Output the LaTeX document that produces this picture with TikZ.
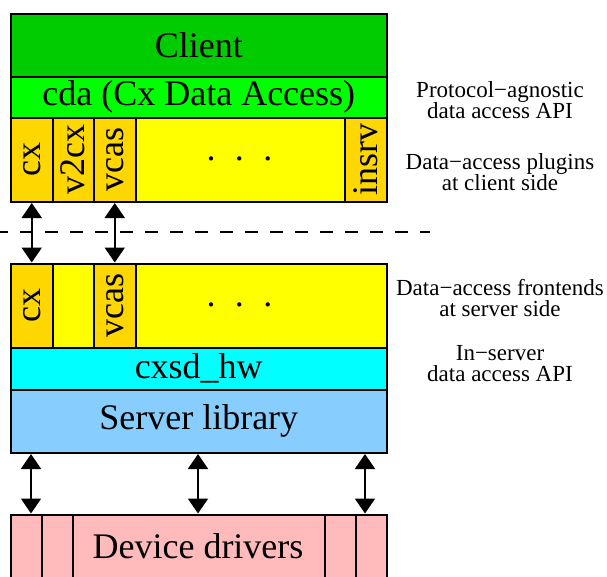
\documentclass[tikz,border=0pt]{standalone}
\usepackage{fontspec}
\setmainfont{Liberation Serif}
\usetikzlibrary{arrows.meta}
\definecolor{clientgreen}{HTML}{00CC00}
\definecolor{cdagreen}{HTML}{00FF00}
\definecolor{plugyellow}{HTML}{FFFF00}
\definecolor{pluggold}{HTML}{FFD700}
\definecolor{hwcyan}{HTML}{00FFFF}
\definecolor{libblue}{HTML}{87CEFF}
\definecolor{drvpink}{HTML}{FFBBBB}
\tikzset{
  box/.style={draw=black, line width=1.5pt, rectangle, inner sep=0pt, anchor=north west,
    font=\fontsize{36}{36}\selectfont},
  col/.style={box, fill=pluggold, minimum width=42pt, minimum height=84pt},
  vlabel/.style={rotate=90, inner sep=0pt, font=\fontsize{36}{36}\selectfont},
  sidelabel/.style={align=center, inner sep=0pt, font=\fontsize{23}{21}\selectfont},
  dblarrow/.style={line width=2pt, {Triangle[width=20pt,length=15pt]}-{Triangle[width=20pt,length=15pt]}, shorten <=0.5pt, shorten >=0.5pt},
  sep/.style={line width=1.5pt, dash pattern=on 13pt off 12pt, dash phase=5pt},
  dots/.style={inner sep=0pt, anchor=base, font=\fontsize{36}{36}\selectfont}
}
\begin{document}
\begin{tikzpicture}[x=1pt, y=-1pt]
\useasboundingbox (0,0) rectangle (607,576);
% client side
\node[box, fill=clientgreen, minimum width=376pt, minimum height=63pt] (client) at (10,13) {Client};
\node[box, fill=cdagreen, minimum width=376pt, minimum height=41pt] (cda) at (10,76) {cda (Cx Data Access)};
\node[box, fill=plugyellow, minimum width=376pt, minimum height=84pt] (plugins) at (10,117) {};
\node[col] (pcx) at (10,117) {};
\node[col, minimum width=41pt] (pv2cx) at (52,117) {};
\node[col] (pvcas) at (93,117) {};
\node[col] (pinsrv) at (344,117) {};
\node[vlabel] (lpcx) at (pcx.center) {cx};
\node[vlabel] (lpv2cx) at (pv2cx.center) {v2cx};
\node[vlabel] (lpvcas) at (pvcas.center) {vcas};
\node[vlabel] (lpinsrv) at (pinsrv.center) {insrv};
\node[dots] (pdots) at (239.5,160.5) {.\hspace{19.5pt}.\hspace{19.5pt}.};
% separator
\coordinate (sepl) at (0,232);
\coordinate (sepr) at (430,232);
\draw[sep] (sepl) -- (sepr);
% server side
\node[box, fill=plugyellow, minimum width=376pt, minimum height=84pt] (frontends) at (10,263) {};
\node[col] (scx) at (10,263) {};
\node[box, fill=plugyellow, minimum width=41pt, minimum height=84pt] (sgap) at (52,263) {};
\node[col] (svcas) at (93,263) {};
\node[vlabel] (lscx) at (scx.center) {cx};
\node[vlabel] (lsvcas) at (svcas.center) {vcas};
\node[dots] (sdots) at (239.5,306.5) {.\hspace{19.5pt}.\hspace{19.5pt}.};
\node[box, fill=hwcyan, minimum width=376pt, minimum height=42pt] (hw) at (10,347) {cxsd\_hw};
\node[box, fill=libblue, minimum width=376pt, minimum height=63pt] (srvlib) at (10,389) {Server library};
% device drivers
\node[box, fill=drvpink, minimum width=376pt, minimum height=80pt] (drivers) at (10,514) {};
\node[box, fill=drvpink, minimum width=31pt, minimum height=80pt] (drv1) at (10,514) {};
\node[box, fill=drvpink, minimum width=31pt, minimum height=80pt] (drv2) at (41,514) {};
\node[box, fill=drvpink, minimum width=31pt, minimum height=80pt] (drv3) at (324,514) {};
\node[box, fill=drvpink, minimum width=31pt, minimum height=80pt] (drv4) at (355,514) {};
\node[inner sep=0pt, font=\fontsize{36}{36}\selectfont] (drvtext) at (198,546) {Device drivers};
% arrows
\draw[dblarrow] (pcx.south) -- (scx.north);
\draw[dblarrow] (pvcas.south) -- (svcas.north);
\coordinate (t1) at (31,514);
\coordinate (t2) at (198,514);
\coordinate (t3) at (365,514);
\draw[dblarrow] (t1 |- srvlib.south) -- (t1);
\draw[dblarrow] (t2 |- srvlib.south) -- (t2);
\draw[dblarrow] (t3 |- srvlib.south) -- (t3);
% side labels
\node[sidelabel] (l1) at (500,100) {Protocol−agnostic\\data access API};
\node[sidelabel] (l2) at (500,172) {Data−access plugins\\at client side};
\node[sidelabel] (l3) at (500,298) {Data−access frontends\\at server side};
\node[sidelabel] (l4) at (500,364) {In−server\\data access API};
\end{tikzpicture}
\end{document}
